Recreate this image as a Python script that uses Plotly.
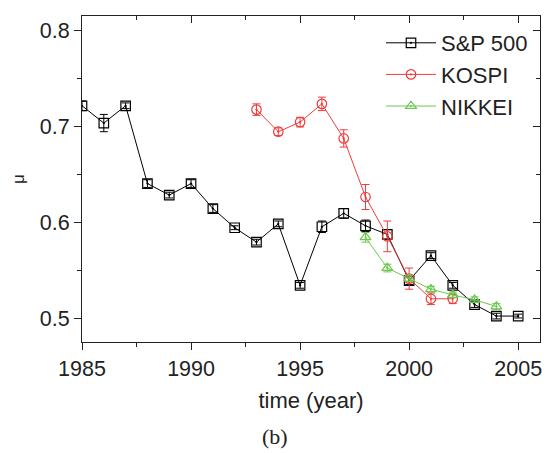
import plotly.graph_objects as go

sp_years = list(range(1985, 2006))
sp_mu = [0.722, 0.704, 0.722, 0.641, 0.629, 0.641, 0.615, 0.595, 0.580, 0.599,
         0.535, 0.596, 0.610, 0.597, 0.588, 0.540, 0.566, 0.535, 0.515, 0.503, 0.503]
sp_err = [0.005, 0.009, 0.003, 0.004, 0.003, 0.004, 0.004, 0.002, 0.003, 0.003,
          0.003, 0.006, 0.005, 0.006, 0.005, 0.004, 0.003, 0.003, 0.003, 0.003, 0.002]

kospi_years = list(range(1993, 2003))
kospi_mu = [0.718, 0.695, 0.705, 0.724, 0.688, 0.627, 0.586, 0.542, 0.521, 0.521]
kospi_err = [0.006, 0.004, 0.005, 0.007, 0.009, 0.013, 0.016, 0.011, 0.006, 0.005]

nikkei_years = list(range(1998, 2005))
nikkei_mu = [0.585, 0.553, 0.542, 0.531, 0.525, 0.520, 0.513]
nikkei_err = [0.005, 0.004, 0.003, 0.003, 0.003, 0.003, 0.003]

x_range = [1985, 2006]
y_range = [0.476, 0.8155]
x_ticks = [1985, 1990, 1995, 2000, 2005]
y_ticks = [0.5, 0.6, 0.7, 0.8]

BLACK = "#000000"
RED = "#f03c3c"
GREEN = "#6cc850"
AX = "#222222"

fig = go.Figure()

def add_series(name, xs, ys, es, color, symbol):
    fig.add_trace(go.Scatter(
        x=xs, y=ys, name=name, mode="lines+markers",
        line=dict(color=color, width=1),
        marker=dict(symbol=symbol, size=9.5, color=color, line=dict(color=color, width=1.2)),
        error_y=dict(type="data", array=es, visible=True, color=color, thickness=1, width=4),
    ))

add_series("S&P 500", sp_years, sp_mu, sp_err, BLACK, "square-open-dot")
add_series("KOSPI", kospi_years, kospi_mu, kospi_err, RED, "circle-open-dot")
add_series("NIKKEI", nikkei_years, nikkei_mu, nikkei_err, GREEN, "triangle-up-open-dot")

# empty helper trace to anchor the mirrored (top/right) axes
fig.add_trace(go.Scatter(x=[], y=[], xaxis="x2", yaxis="y2", showlegend=False, hoverinfo="skip"))

font_main = "Liberation Sans, Arial, sans-serif"
M_L, M_R, M_T, M_B = 82, 14, 16, 111
W, H = 554, 453
plot_w = W - M_L - M_R
plot_h = H - M_T - M_B

fig.update_layout(
    width=W, height=H,
    margin=dict(l=M_L, r=M_R, t=M_T, b=M_B),
    paper_bgcolor="white", plot_bgcolor="white",
    font=dict(family=font_main, color=AX, size=21),
    showlegend=True,
    legend=dict(x=(533 - M_L) / plot_w, y=1 - (22 - M_T) / plot_h, xanchor="right", yanchor="top",
                bgcolor="rgba(0,0,0,0)", font=dict(size=22, family=font_main),
                itemwidth=50, tracegroupgap=0),
    xaxis=dict(range=x_range, tickvals=x_ticks,
               ticks="outside", ticklen=7, tickwidth=1, tickcolor=AX,
               showline=True, linecolor=AX, linewidth=1,
               showgrid=False, zeroline=False,
               minor=dict(dtick=2.5, tick0=1985, ticks="outside", ticklen=4, tickcolor=AX, showgrid=False),
               tickfont=dict(size=21.5),
               title=dict(text="time (year)", font=dict(size=22), standoff=12)),
    yaxis=dict(range=y_range, tickvals=y_ticks, ticktext=[f"{v:.1f}" for v in y_ticks],
               ticks="outside", ticklen=7, tickwidth=1, tickcolor=AX,
               showline=True, linecolor=AX, linewidth=1,
               showgrid=False, zeroline=False,
               minor=dict(dtick=0.05, tick0=0.5, ticks="outside", ticklen=4, tickcolor=AX, showgrid=False),
               tickfont=dict(size=21.5),
               title=dict(text="μ", font=dict(size=17), standoff=10)),
    xaxis2=dict(range=x_range, overlaying="x", side="top", anchor="y2",
                tickvals=x_ticks, showticklabels=False,
                ticks="inside", ticklen=7, tickcolor=AX,
                showline=True, linecolor=AX, linewidth=1, showgrid=False, zeroline=False,
                minor=dict(dtick=2.5, tick0=1985, ticks="inside", ticklen=4, tickcolor=AX, showgrid=False)),
    yaxis2=dict(range=y_range, overlaying="y", side="right", anchor="x2",
                tickvals=y_ticks, showticklabels=False,
                ticks="inside", ticklen=7, tickcolor=AX,
                showline=True, linecolor=AX, linewidth=1, showgrid=False, zeroline=False,
                minor=dict(dtick=0.05, tick0=0.5, ticks="inside", ticklen=4, tickcolor=AX, showgrid=False)),
    annotations=[dict(text="(b)", x=(275 - M_L) / plot_w, xref="paper",
                      y=-(437 - (H - M_B)) / plot_h, yref="paper", yanchor="middle",
                      showarrow=False, font=dict(size=22, family="Liberation Serif, serif", color=AX))],
)

fig.write_html("out.html", config={"displayModeBar": False},
               post_script="document.body.style.margin='0';")
